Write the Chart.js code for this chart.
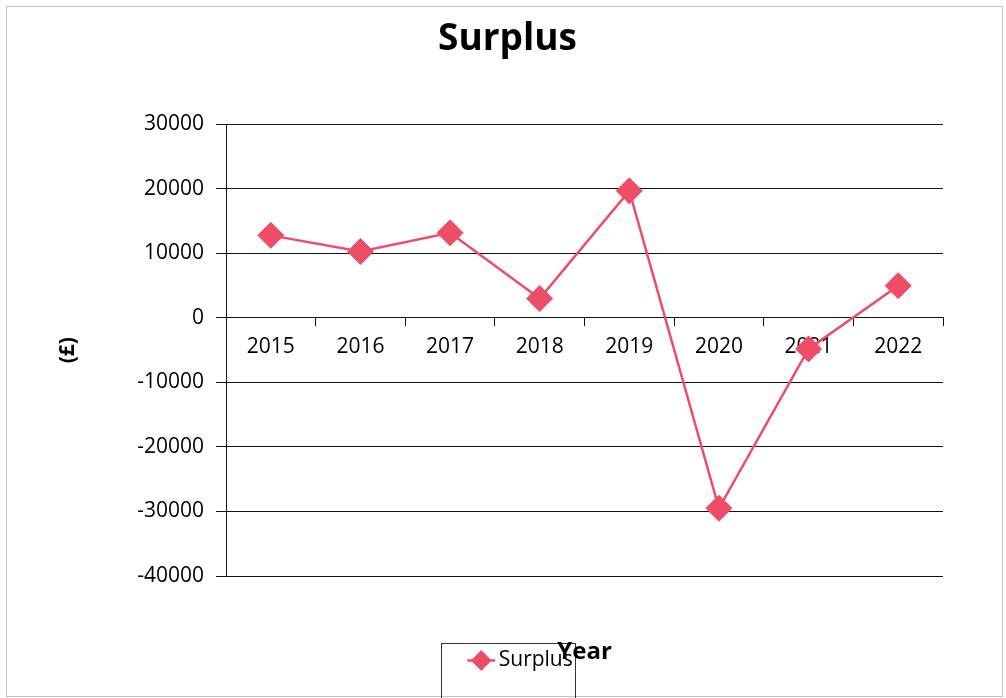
<!DOCTYPE html>
<html>
<head>
<meta charset="utf-8">
<script src="https://cdn.jsdelivr.net/npm/chart.js@4"></script>
<style>
  html, body { margin: 0; padding: 0; background: #fff; }
  #wrap { width: 1006px; height: 698px; }
</style>
</head>
<body>
<div id="wrap"><canvas id="chart" width="1006" height="698"></canvas></div>
<script>
// --- DATA ---
const years = ["2015", "2016", "2017", "2018", "2019", "2020", "2021", "2022"];
const surplus = [12800, 10300, 13200, 3000, 19700, -29500, -4800, 5000];
const yMin = -40000;
const yMax = 30000;
const yStep = 10000;

const PINK = "#ee4d68";
const FONT = "'Open Sans', 'Noto Sans', sans-serif";

// --- PLUGIN: frame, legend box and legend line ---
const framePlugin = {
  id: "frame",
  afterLayout(chart) {
    // nudge legend and title to sit where the original ones are
    chart.legend.left += 52;
    chart.legend.right += 52;
    chart.titleBlock.left += 36;
    chart.titleBlock.right += 36;
  },
  beforeDraw(chart) {
    const ctx = chart.ctx;
    ctx.save();
    ctx.fillStyle = "#fff";
    ctx.fillRect(0, 0, chart.width, chart.height);
    ctx.strokeStyle = "#c4c4c4";
    ctx.lineWidth = 1;
    ctx.strokeRect(6.5, 6.5, 996, 690);

    const hit = chart.legend.legendHitBoxes[0];
    if (hit) {
      const cx = hit.left + 7;
      const cy = hit.top + hit.height / 2;
      // legend outline
      ctx.strokeStyle = "#333";
      ctx.strokeRect(Math.round(hit.left - 33) + 0.5, Math.round(hit.top - 7) + 0.5, 134, 80);
      // line through marker
      ctx.strokeStyle = PINK;
      ctx.lineWidth = 2.5;
      ctx.beginPath();
      ctx.moveTo(cx - 14, cy);
      ctx.lineTo(cx + 14, cy);
      ctx.stroke();
    }
    ctx.restore();
  }
};

// --- CHART ---
new Chart(document.getElementById("chart"), {
  type: "line",
  data: {
    labels: years,
    datasets: [{
      label: "Surplus",
      data: surplus,
      borderColor: PINK,
      backgroundColor: PINK,
      borderWidth: 2.5,
      pointStyle: "rectRot",
      pointRadius: 13,
      pointBackgroundColor: PINK,
      pointBorderColor: PINK,
      pointBorderWidth: 1,
      tension: 0
    }]
  },
  options: {
    responsive: false,
    animation: false,
    layout: { padding: { left: 0, right: 63, top: 0, bottom: 17 } },
    plugins: {
      title: {
        display: true,
        text: "Surplus",
        color: "#000",
        font: { family: FONT, size: 37, weight: "bold" },
        padding: { top: 17, bottom: 63 }
      },
      legend: {
        display: true,
        position: "bottom",
        title: { display: true, text: "", font: { size: 10 }, padding: { top: 57, bottom: 0 } },
        labels: {
          usePointStyle: true,
          boxWidth: 14,
          boxHeight: 14,
          padding: 5,
          color: "#000",
          font: { family: FONT, size: 21 }
        }
      },
      tooltip: { enabled: false }
    },
    scales: {
      x: {
        position: { y: 0 },
        offset: true,
        grid: { display: true, drawOnChartArea: false, drawTicks: true, tickLength: 8, color: "#111", offset: true },
        border: { display: true, color: "#111", width: 1 },
        ticks: { color: "#000", padding: 8, maxRotation: 0, font: { family: FONT, size: 21 } },
        title: {
          display: true,
          text: "Year",
          color: "#000",
          font: { family: FONT, size: 24, weight: "bold" },
          // box height is capped by the layout, so the negative bottom pad pushes the title down
          padding: { top: 300, bottom: -8 }
        }
      },
      y: {
        min: yMin,
        max: yMax,
        afterFit(scale) { scale.width = 226; },
        grid: { color: "#111", lineWidth: 1, drawTicks: true, tickLength: 10 },
        border: { display: true, color: "#111", width: 1 },
        ticks: {
          stepSize: yStep,
          color: "#000",
          padding: 12,
          font: { family: FONT, size: 21 },
          callback: v => String(v)
        },
        title: {
          display: true,
          text: "(£)",
          color: "#000",
          font: { family: FONT, size: 21, weight: "bold" },
          padding: { top: 55, bottom: 0 }
        }
      }
    }
  },
  plugins: [framePlugin]
});
</script>
</body>
</html>
